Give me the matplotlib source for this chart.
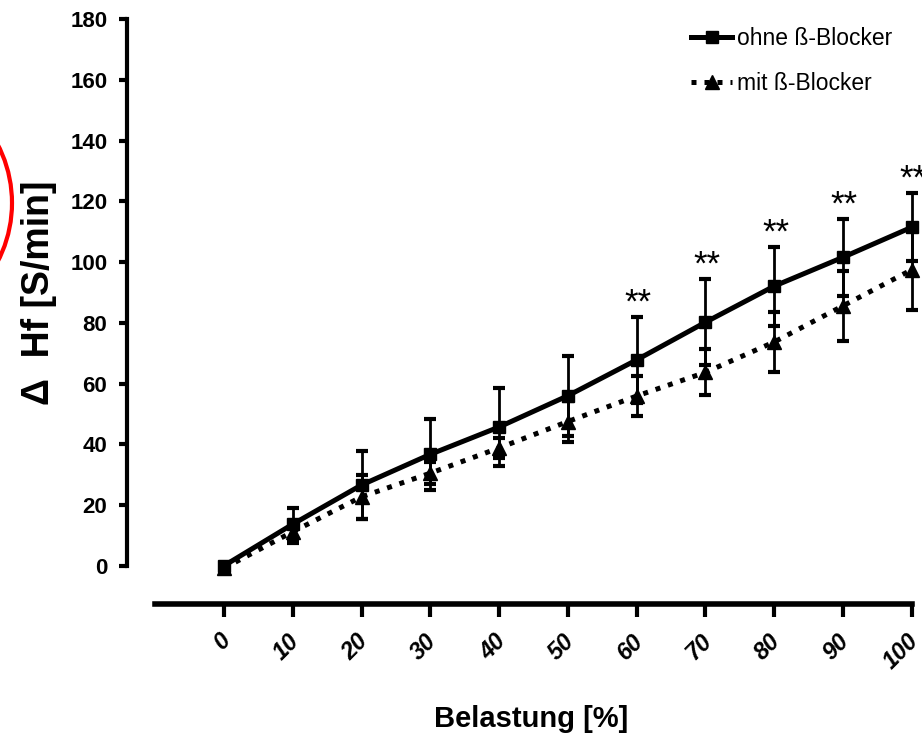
import numpy as np
import matplotlib
matplotlib.use('Agg')
import matplotlib.pyplot as plt
import matplotlib.transforms as mtransforms
from matplotlib.patches import Ellipse

# Belastung in %, mittlere Herzfrequenzzunahme mit SD
belastung = [0, 10, 20, 30, 40, 50, 60, 70, 80, 90, 100]
ohne = [0, 13.7, 26.6, 36.7, 45.7, 56.0, 67.8, 80.2, 92.1, 101.6, 111.5]
ohne_sd = [0, 5.4, 11.2, 11.6, 12.9, 13.2, 14.2, 14.1, 13.0, 12.6, 11.2]
mit = [-0.8, 11.2, 22.7, 30.5, 38.8, 47.5, 55.9, 63.7, 73.7, 85.6, 97.5]
mit_sd = [0, 3.6, 7.3, 3.6, 3.4, 6.8, 6.6, 7.6, 9.8, 11.6, 13.3]
signif = ['', '', '', '', '', '', '**', '**', '**', '**', '**']
yticks = [0, 20, 40, 60, 80, 100, 120, 140, 160, 180]

plt.rcParams['font.family'] = ['Liberation Sans', 'DejaVu Sans']

W, H = 922, 735
fig = plt.figure(figsize=(W / 100, H / 100), dpi=100)
ax = fig.add_axes([126.7 / W, 1 - 604.3 / H, (911.7 - 126.7) / W, (604.3 - 19.3) / H])

# error bars first, lines on top
ax.errorbar(belastung, mit, yerr=mit_sd, fmt='none', ecolor='black',
            elinewidth=2, capsize=4.5, capthick=3, clip_on=False, zorder=2)
ax.errorbar(belastung, ohne, yerr=ohne_sd, fmt='none', ecolor='black',
            elinewidth=2, capsize=4.5, capthick=3, clip_on=False, zorder=2)
l_mit, = ax.plot(belastung, mit, color='black', lw=3.6, ls=(0, (1, 1.6)),
                 marker='^', ms=10, clip_on=False, zorder=3, label='mit ß-Blocker')
l_ohne, = ax.plot(belastung, ohne, color='black', lw=3.6, ls='-',
                  marker='s', ms=9, clip_on=False, zorder=4, label='ohne ß-Blocker')

for i, s in enumerate(signif):
    if s:
        ax.text(belastung[i] + 0.2, ohne[i] + ohne_sd[i] + 1.5, s, ha='center',
                va='baseline', fontsize=25, clip_on=False)

ax.set_xlim(-14.15, 100)
ax.set_ylim(-12.7, 180)
for side in ['top', 'right']:
    ax.spines[side].set_visible(False)
ax.spines['left'].set_bounds(0, 180)
ax.spines['left'].set_linewidth(3)
ax.spines['bottom'].set_bounds(-10, 100)
ax.spines['bottom'].set_linewidth(4)

ax.set_yticks(yticks)
ax.set_yticklabels([str(v) for v in yticks], fontsize=16, fontweight='bold')
ax.tick_params(axis='y', direction='out', length=6, width=3, pad=8)
ax.set_xticks(belastung)
ax.set_xticklabels([str(v) for v in belastung], fontsize=17, fontweight='bold',
                   fontstyle='italic', rotation=45, ha='right')
ax.tick_params(axis='x', direction='out', length=9, width=3, pad=9)
shift = mtransforms.ScaledTranslation(11 / 100, 0, fig.dpi_scale_trans)
for lab in ax.get_xticklabels():
    lab.set_transform(lab.get_transform() + shift)

fig.text(531.5 / W, 1 - 726.7 / H, 'Belastung [%]', ha='center', va='baseline',
         fontsize=21, fontweight='bold')
fig.text(39 / W, 1 - 293 / H, 'Δ  Hf [S/min]', rotation=90, ha='center', va='center',
         fontsize=27, fontweight='bold')

ax.legend(handles=[l_ohne, l_mit], loc='upper left',
          bbox_to_anchor=(691 / W, 1 - 27 / H), bbox_transform=fig.transFigure,
          frameon=False, fontsize=16.5, handlelength=1.79, handletextpad=0.22,
          labelspacing=0.95, borderpad=0, borderaxespad=0, numpoints=1)

# red marking circle at the left edge
fig.patches.append(Ellipse((-115 / W, 1 - 203 / H), 2 * 127 / W, 2 * 127 / H,
                           transform=fig.transFigure, fill=False,
                           edgecolor='red', lw=3, figure=fig))

fig.savefig('out.png', dpi=100)
